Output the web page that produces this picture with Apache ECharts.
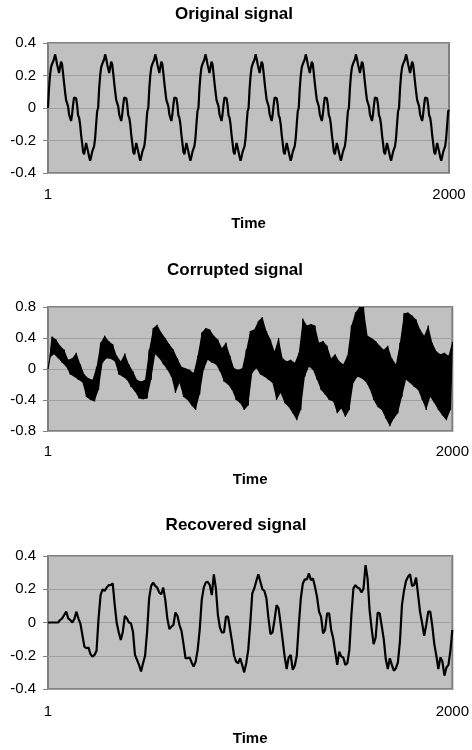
<!DOCTYPE html>
<html>
<head>
<meta charset="utf-8">
<title>signals</title>
<script src="https://cdn.jsdelivr.net/npm/echarts@6.0.0/dist/echarts.min.js"></script>
<style>
  html, body { margin: 0; padding: 0; background: #fff; }
  #main { width: 472px; height: 750px; }
</style>
</head>
<body>
<div id="main"></div>
<script>
// original signal, read every 5 time steps (t = 1, 6, 11, ...), last value at t = 2000
var original = [
  0, 0.12, 0.2, 0.25, 0.27, 0.28, 0.3, 0.33, 0.305, 0.27, 0.26, 0.215, 0.25, 0.285, 0.27, 0.215, 0.155, 0.1, 0.05, 0.05, 0.01, -0.04, -0.06, -0.08, -0.04, 0.02, 0.065, 0.07, 0.06, 0.02, -0.045, -0.06, -0.1, -0.165, -0.215, -0.27, -0.285, -0.25, -0.215, -0.225, -0.27, -0.3, -0.325, -0.3, -0.27, -0.27, -0.235, -0.185, -0.1, -0.02,
  0, 0.12, 0.2, 0.25, 0.27, 0.28, 0.3, 0.33, 0.305, 0.27, 0.26, 0.215, 0.25, 0.285, 0.27, 0.215, 0.155, 0.1, 0.05, 0.05, 0.01, -0.04, -0.06, -0.08, -0.04, 0.02, 0.065, 0.07, 0.06, 0.02, -0.045, -0.06, -0.1, -0.165, -0.215, -0.27, -0.285, -0.25, -0.215, -0.225, -0.27, -0.3, -0.325, -0.3, -0.27, -0.27, -0.235, -0.185, -0.1, -0.02,
  0, 0.12, 0.2, 0.25, 0.27, 0.28, 0.3, 0.33, 0.305, 0.27, 0.26, 0.215, 0.25, 0.285, 0.27, 0.215, 0.155, 0.1, 0.05, 0.05, 0.01, -0.04, -0.06, -0.08, -0.04, 0.02, 0.065, 0.07, 0.06, 0.02, -0.045, -0.06, -0.1, -0.165, -0.215, -0.27, -0.285, -0.25, -0.215, -0.225, -0.27, -0.3, -0.325, -0.3, -0.27, -0.27, -0.235, -0.185, -0.1, -0.02,
  0, 0.12, 0.2, 0.25, 0.27, 0.28, 0.3, 0.33, 0.305, 0.27, 0.26, 0.215, 0.25, 0.285, 0.27, 0.215, 0.155, 0.1, 0.05, 0.05, 0.01, -0.04, -0.06, -0.08, -0.04, 0.02, 0.065, 0.07, 0.06, 0.02, -0.045, -0.06, -0.1, -0.165, -0.215, -0.27, -0.285, -0.25, -0.215, -0.225, -0.27, -0.3, -0.325, -0.3, -0.27, -0.27, -0.235, -0.185, -0.1, -0.02,
  0, 0.12, 0.2, 0.25, 0.27, 0.28, 0.3, 0.33, 0.305, 0.27, 0.26, 0.215, 0.25, 0.285, 0.27, 0.215, 0.155, 0.1, 0.05, 0.05, 0.01, -0.04, -0.06, -0.08, -0.04, 0.02, 0.065, 0.07, 0.06, 0.02, -0.045, -0.06, -0.1, -0.165, -0.215, -0.27, -0.285, -0.25, -0.215, -0.225, -0.27, -0.3, -0.325, -0.3, -0.27, -0.27, -0.235, -0.185, -0.1, -0.02,
  0, 0.12, 0.2, 0.25, 0.27, 0.28, 0.3, 0.33, 0.305, 0.27, 0.26, 0.215, 0.25, 0.285, 0.27, 0.215, 0.155, 0.1, 0.05, 0.05, 0.01, -0.04, -0.06, -0.08, -0.04, 0.02, 0.065, 0.07, 0.06, 0.02, -0.045, -0.06, -0.1, -0.165, -0.215, -0.27, -0.285, -0.25, -0.215, -0.225, -0.27, -0.3, -0.325, -0.3, -0.27, -0.27, -0.235, -0.185, -0.1, -0.02,
  0, 0.12, 0.2, 0.25, 0.27, 0.28, 0.3, 0.33, 0.305, 0.27, 0.26, 0.215, 0.25, 0.285, 0.27, 0.215, 0.155, 0.1, 0.05, 0.05, 0.01, -0.04, -0.06, -0.08, -0.04, 0.02, 0.065, 0.07, 0.06, 0.02, -0.045, -0.06, -0.1, -0.165, -0.215, -0.27, -0.285, -0.25, -0.215, -0.225, -0.27, -0.3, -0.325, -0.3, -0.27, -0.27, -0.235, -0.185, -0.1, -0.02,
  0, 0.12, 0.2, 0.25, 0.27, 0.28, 0.3, 0.33, 0.305, 0.27, 0.26, 0.215, 0.25, 0.285, 0.27, 0.215, 0.155, 0.1, 0.05, 0.05, 0.01, -0.04, -0.06, -0.08, -0.04, 0.02, 0.065, 0.07, 0.06, 0.02, -0.045, -0.06, -0.1, -0.165, -0.215, -0.27, -0.285, -0.25, -0.215, -0.225, -0.27, -0.3, -0.325, -0.3, -0.27, -0.27, -0.235, -0.185, -0.1, -0.02,
  -0.01
];

// corrupted signal: band tops (t = 1, 21, 41, ...) and band bottoms (t = 11, 31, 51, ...)
var corruptedTop = [
  0, 0.42, 0.38, 0.3, 0.25, 0.12, 0.14, 0.21, 0.06, -0.07,
  -0.12, -0.14, 0.03, 0.34, 0.43, 0.36, 0.32, 0.17, 0.1, 0.2,
  0.06, -0.03, -0.14, -0.16, -0.14, 0.25, 0.53, 0.57, 0.47, 0.4,
  0.32, 0.25, 0.14, 0.03, 0.01, -0.01, -0.05, 0.17, 0.47, 0.53,
  0.51, 0.43, 0.38, 0.27, 0.34, 0.17, 0.01, -0.01, 0.01, 0.25,
  0.49, 0.51, 0.62, 0.67, 0.49, 0.38, 0.23, 0.4, 0.14, 0.1,
  0.12, 0.08, 0.21, 0.65, 0.56, 0.58, 0.56, 0.34, 0.36, 0.3,
  0.14, 0.19, 0.1, 0.06, 0.17, 0.56, 0.73, 0.8, 0.8, 0.43,
  0.4, 0.36, 0.3, 0.25, 0.3, 0.14, 0.06, 0.34, 0.72, 0.73,
  0.69, 0.64, 0.51, 0.43, 0.56, 0.34, 0.23, 0.19, 0.21, 0.17
];
var corruptedBottom = [
  0.15, 0.19, 0.14, 0.08, 0.03, -0.07, -0.1, -0.14, -0.17, -0.36,
  -0.4, -0.42, -0.27, 0.08, 0.14, 0.13, 0.1, -0.07, -0.1, -0.14,
  -0.23, -0.29, -0.38, -0.39, -0.38, -0.14, 0.19, 0.14, 0.06, -0.01,
  -0.1, -0.31, -0.18, -0.36, -0.4, -0.47, -0.53, -0.33, -0.01, 0.12,
  0.08, 0.06, -0.03, -0.16, -0.2, -0.27, -0.4, -0.44, -0.53, -0.47,
  -0.05, 0.01, -0.07, -0.1, -0.14, -0.18, -0.4, -0.31, -0.44, -0.49,
  -0.57, -0.66, -0.53, -0.1, 0.03, -0.01, -0.14, -0.27, -0.33, -0.4,
  -0.42, -0.57, -0.51, -0.62, -0.53, -0.18, -0.1, -0.12, -0.16, -0.25,
  -0.4, -0.49, -0.53, -0.64, -0.74, -0.64, -0.57, -0.36, -0.14, -0.18,
  -0.23, -0.27, -0.4, -0.53, -0.36, -0.44, -0.53, -0.6, -0.66, -0.53
];
var corruptedEnd = 0.35;

// recovered signal, read every 10 time steps (t = 1, 11, 21, ...), last value at t = 2000
var recovered = [
  0, 0, 0, 0, 0, 0, 0.015, 0.025, 0.045, 0.065,
  0.025, 0.015, 0, 0.02, 0.065, 0.025, -0.005, -0.075, -0.145, -0.155,
  -0.15, -0.19, -0.205, -0.195, -0.17, 0.025, 0.165, 0.2, 0.19, 0.21,
  0.225, 0.225, 0.235, 0.105, -0.005, -0.06, -0.105, -0.055, 0.04, 0.025,
  0, -0.005, -0.055, -0.195, -0.225, -0.255, -0.295, -0.245, -0.2, -0.055,
  0.145, 0.22, 0.24, 0.22, 0.21, 0.18, 0.17, 0.21, 0.135, 0.025,
  -0.04, -0.025, -0.015, 0.06, 0.04, -0.015, -0.05, -0.13, -0.215, -0.215,
  -0.21, -0.24, -0.265, -0.235, -0.165, -0.045, 0.135, 0.21, 0.24, 0.245,
  0.225, 0.165, 0.29, 0.205, 0.045, -0.03, -0.06, -0.06, 0.035, 0.035,
  -0.04, -0.115, -0.2, -0.235, -0.245, -0.215, -0.255, -0.3, -0.245, -0.165,
  -0.005, 0.175, 0.205, 0.25, 0.29, 0.245, 0.2, 0.19, 0.145, 0.025,
  -0.07, -0.06, 0.015, 0.105, 0.085, -0.005, -0.105, -0.205, -0.28, -0.21,
  -0.195, -0.285, -0.26, -0.2, -0.015, 0.145, 0.235, 0.26, 0.26, 0.295,
  0.255, 0.265, 0.215, 0.155, 0.065, 0.035, -0.065, -0.045, 0.055, 0.055,
  -0.045, -0.095, -0.175, -0.255, -0.175, -0.205, -0.21, -0.255, -0.245, -0.165,
  0.045, 0.205, 0.225, 0.21, 0.205, 0.18, 0.205, 0.345, 0.265, 0.075,
  -0.035, -0.13, -0.09, 0.06, 0.055, -0.02, -0.1, -0.22, -0.28, -0.215,
  -0.255, -0.29, -0.275, -0.24, -0.115, 0.105, 0.19, 0.25, 0.275, 0.29,
  0.22, 0.225, 0.27, 0.165, 0.06, -0.005, -0.08, -0.015, 0.065, 0.065,
  -0.02, -0.13, -0.2, -0.28, -0.21, -0.235, -0.32, -0.27, -0.255, -0.165,
  -0.045
];

var titles = ['Original signal', 'Corrupted signal', 'Recovered signal'];
var xLabels = [1, 2000];
var yLimits = [0.4, 0.8, 0.4];
var yIntervals = [0.2, 0.4, 0.2];

var font = 'Arial, "Liberation Sans", sans-serif';

// values sampled every `step` from t=1; the last one sits at t=2000
function toPairs(values, step) {
    var out = [];
    for (var i = 0; i < values.length; i++) {
        var t = (i === values.length - 1) ? 2000 : 1 + step * i;
        out.push([t, values[i]]);
    }
    return out;
}

var topPairs = [], bottomPairs = [], corruptedData = [];
for (var i = 0; i < corruptedTop.length; i++) {
    topPairs.push([1 + 20 * i, corruptedTop[i]]);
    bottomPairs.push([11 + 20 * i, corruptedBottom[i]]);
    corruptedData.push(topPairs[i]);
    corruptedData.push(bottomPairs[i]);
}
topPairs.push([2000, corruptedEnd]);
corruptedData.push([2000, corruptedEnd]);

var grids = [
    { left: 48, top: 43, width: 401, height: 130 },
    { left: 48, top: 307, width: 405, height: 124 },
    { left: 48, top: 556, width: 407, height: 133 }
];
var titleTops = [6, 262, 517];
var titleCenters = [234, 235, 236];
var labelMargins = [14.5, 13.5, 15];
var nameGaps = [43.5, 41.5, 42.5];

var chart = echarts.init(document.getElementById('main'));

var option = {
    animation: false,
    backgroundColor: '#fff',
    title: titles.map(function (t, k) {
        return {
            text: t,
            left: titleCenters[k],
            top: titleTops[k],
            textAlign: 'center',
            padding: 0,
            textStyle: { fontFamily: font, fontSize: 17, fontWeight: 'bold', color: '#000' }
        };
    }),
    grid: grids.map(function (g) {
        return {
            left: g.left, top: g.top, width: g.width, height: g.height,
            show: true,
            backgroundColor: '#c0c0c0',
            borderColor: '#808080',
            borderWidth: 2
        };
    }),
    xAxis: grids.map(function (g, k) {
        return {
            gridIndex: k,
            type: 'value',
            min: 1,
            max: 2000,
            name: 'Time',
            nameLocation: 'middle',
            nameGap: nameGaps[k],
            nameTextStyle: { fontFamily: font, fontSize: 15, fontWeight: 'bold', color: '#000' },
            axisLine: { show: false },
            splitLine: { show: false },
            axisTick: { show: true, customValues: xLabels, length: 4, lineStyle: { color: '#808080' } },
            axisLabel: {
                customValues: xLabels,
                margin: labelMargins[k],
                fontFamily: font, fontSize: 15, color: '#000',
                formatter: function (v) { return String(v); }
            }
        };
    }),
    yAxis: grids.map(function (g, k) {
        return {
            gridIndex: k,
            type: 'value',
            min: -yLimits[k],
            max: yLimits[k],
            interval: yIntervals[k],
            axisLine: { show: false },
            axisTick: { show: true, length: 5, lineStyle: { color: '#808080' } },
            splitLine: { show: true, lineStyle: { color: '#a0a0a0', width: 1 } },
            axisLabel: { margin: 12, fontFamily: font, fontSize: 15, color: '#000' }
        };
    }),
    series: [
        {
            type: 'line', xAxisIndex: 0, yAxisIndex: 0,
            data: toPairs(original, 5),
            showSymbol: false, symbol: 'none', silent: true,
            lineStyle: { color: '#000', width: 2.2 }
        },
        {
            // filled noise band between the tops and the bottoms
            type: 'custom', xAxisIndex: 1, yAxisIndex: 1,
            data: [[1, 0]],
            silent: true,
            renderItem: function (params, api) {
                var pts = [];
                for (var j = 0; j < topPairs.length; j++) pts.push(api.coord(topPairs[j]));
                for (var j = bottomPairs.length - 1; j >= 0; j--) pts.push(api.coord(bottomPairs[j]));
                return { type: 'polygon', shape: { points: pts }, style: { fill: '#000' } };
            }
        },
        {
            type: 'line', xAxisIndex: 1, yAxisIndex: 1,
            data: corruptedData,
            showSymbol: false, symbol: 'none', silent: true,
            lineStyle: { color: '#000', width: 1.2 }
        },
        {
            type: 'line', xAxisIndex: 2, yAxisIndex: 2,
            data: toPairs(recovered, 10),
            showSymbol: false, symbol: 'none', silent: true,
            lineStyle: { color: '#000', width: 2.2 }
        }
    ]
};

chart.setOption(option);
</script>
</body>
</html>
